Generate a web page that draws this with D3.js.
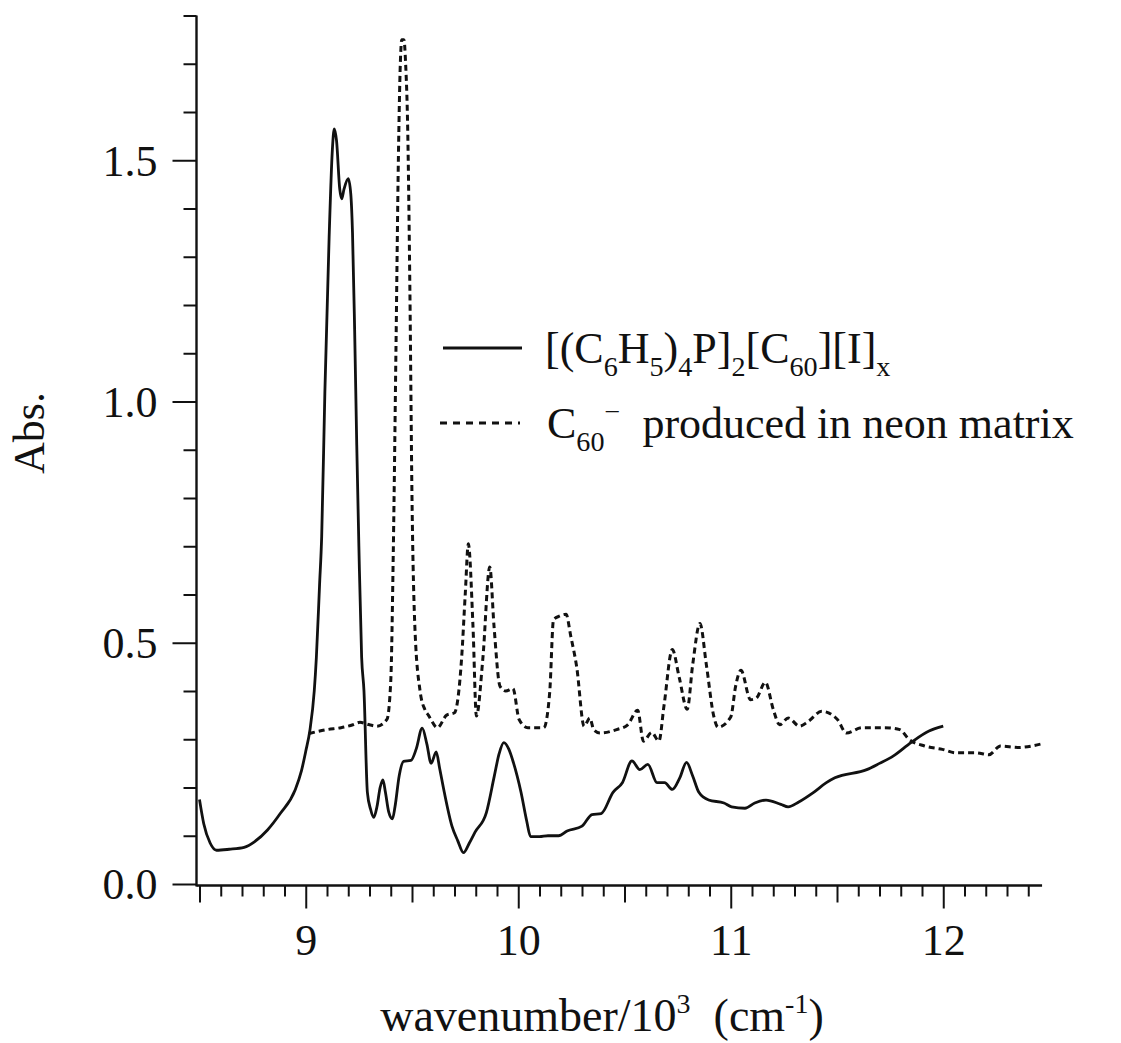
<!DOCTYPE html>
<html>
<head>
<meta charset="utf-8">
<script src="https://cdn.jsdelivr.net/npm/d3@7"></script>
<style>
  html, body { margin: 0; padding: 0; background: #fff; }
  svg text { font-family: "Liberation Serif", "Times New Roman", serif; fill: #111; }
</style>
</head>
<body>
<svg id="chart" width="1121" height="1043"></svg>
<script>
// Absorption of [(C6H5)4P]2[C60][I]x (solid trace), wavenumber in 10^3 cm^-1
const saltWn = [8.50, 8.52, 8.55, 8.58, 8.64, 8.71, 8.76, 8.82, 8.88, 8.95, 8.98, 9.00, 9.02, 9.04, 9.05,
  9.065, 9.075, 9.09, 9.11, 9.125, 9.134, 9.145, 9.16, 9.169, 9.18, 9.20, 9.212, 9.22, 9.23, 9.24,
  9.25, 9.263, 9.274, 9.29, 9.305, 9.32, 9.335, 9.35, 9.363, 9.375, 9.39, 9.408, 9.42, 9.44, 9.46,
  9.495, 9.52, 9.548, 9.57, 9.59, 9.614, 9.63, 9.652, 9.688, 9.715, 9.742, 9.77, 9.796, 9.85, 9.887,
  9.91, 9.932, 9.955, 9.977, 10.013, 10.04, 10.058, 10.10, 10.14, 10.19, 10.23, 10.30, 10.347, 10.39,
  10.446, 10.49, 10.535, 10.572, 10.61, 10.653, 10.689, 10.725, 10.76, 10.792, 10.82, 10.85, 10.896,
  10.968, 11.004, 11.067, 11.113, 11.166, 11.236, 11.27, 11.32, 11.39, 11.45, 11.49, 11.64, 11.70,
  11.764, 11.848, 11.933, 12.00];
const saltAbs = [0.175, 0.125, 0.085, 0.070, 0.072, 0.076, 0.088, 0.112, 0.146, 0.195, 0.235, 0.275, 0.32, 0.40, 0.47,
  0.62, 0.72, 1.02, 1.34, 1.52, 1.565, 1.54, 1.44, 1.42, 1.44, 1.462, 1.43, 1.35, 1.15, 0.91,
  0.70, 0.47, 0.40, 0.19, 0.155, 0.138, 0.16, 0.20, 0.216, 0.19, 0.15, 0.135, 0.16, 0.225, 0.254,
  0.256, 0.28, 0.323, 0.29, 0.25, 0.274, 0.24, 0.19, 0.12, 0.09, 0.065, 0.085, 0.107, 0.148, 0.223,
  0.27, 0.293, 0.28, 0.252, 0.19, 0.13, 0.098, 0.098, 0.10, 0.10, 0.11, 0.12, 0.144, 0.146,
  0.19, 0.21, 0.255, 0.237, 0.248, 0.21, 0.21, 0.196, 0.22, 0.252, 0.225, 0.19, 0.174,
  0.168, 0.16, 0.157, 0.168, 0.174, 0.165, 0.16, 0.17, 0.19, 0.21, 0.22, 0.237, 0.25,
  0.265, 0.293, 0.317, 0.327];

// Absorption of C60- isolated in a neon matrix (dashed trace)
const neonWn = [9.015, 9.10, 9.166, 9.222, 9.255, 9.30, 9.334, 9.382, 9.40, 9.412, 9.425, 9.436, 9.445,
  9.452, 9.462, 9.47, 9.48, 9.49, 9.50, 9.514, 9.538, 9.56, 9.577, 9.62, 9.663, 9.70, 9.733, 9.751,
  9.765, 9.787, 9.803, 9.833, 9.866, 9.886, 9.914, 9.941, 9.975, 10.004, 10.045, 10.12, 10.148,
  10.166, 10.193, 10.225, 10.247, 10.275, 10.31, 10.337, 10.355, 10.385, 10.463, 10.515, 10.562,
  10.589, 10.628, 10.662, 10.686, 10.725, 10.758, 10.795, 10.821, 10.855, 10.885, 10.92, 10.94,
  11.00, 11.023, 11.048, 11.093, 11.12, 11.163, 11.20, 11.23, 11.271, 11.324, 11.365, 11.428,
  11.502, 11.544, 11.618, 11.722, 11.796, 11.838, 11.912, 11.996, 12.059, 12.153, 12.215, 12.269,
  12.352, 12.468];
const neonAbs = [0.312, 0.32, 0.324, 0.33, 0.335, 0.33, 0.327, 0.341, 0.42, 0.69, 1.125, 1.505, 1.70,
  1.75, 1.75, 1.70, 1.56, 1.234, 0.80, 0.528, 0.40, 0.362, 0.35, 0.324, 0.35, 0.355, 0.465, 0.604,
  0.705, 0.534, 0.348, 0.465, 0.657, 0.534, 0.41, 0.40, 0.405, 0.341, 0.324, 0.324, 0.397,
  0.548, 0.555, 0.559, 0.514, 0.45, 0.327, 0.344, 0.32, 0.313, 0.32, 0.33, 0.36,
  0.296, 0.314, 0.296, 0.37, 0.486, 0.427, 0.362, 0.455, 0.54, 0.455, 0.348, 0.325,
  0.346, 0.41, 0.443, 0.382, 0.385, 0.418, 0.362, 0.33, 0.344, 0.327, 0.337, 0.358,
  0.341, 0.313, 0.324, 0.324, 0.32, 0.30, 0.286, 0.279, 0.272, 0.272, 0.268, 0.286,
  0.283, 0.291];

// Axis ticks
const xTickValues = d3.range(85, 125).map(d => d / 10);   // 8.5 ... 12.4
const xTickLabels = {9: "9", 10: "10", 11: "11", 12: "12"};
const yTickValues = d3.range(0, 19).map(d => d / 10);     // 0.0 ... 1.8
const yTickLabels = {0: "0.0", 5: "0.5", 10: "1.0", 15: "1.5"};

const svg = d3.select("#chart");

const x = d3.scaleLinear().domain([8.5, 12.5]).range([199.5, 1049.5]);
const y = d3.scaleLinear().domain([0, 1.8]).range([884, 15.5]);

const axisX0 = 196.5;   // y-axis position
const axisY0 = 885.5;   // x-axis position

// ---- x axis ----
const gx = svg.append("g").attr("transform", `translate(0,${axisY0})`)
  .call(d3.axisBottom(x).tickValues(xTickValues).tickSize(11).tickSizeOuter(0)
    .tickFormat(d => xTickLabels[Math.round(d * 10) / 10] || ""));
gx.select(".domain").remove();
gx.selectAll(".tick line")
  .attr("stroke", "#111").attr("stroke-width", 2)
  .attr("y2", d => {
    const t = Math.round(d * 10);
    return t % 10 === 0 ? 23 : (t % 5 === 0 ? 17 : 11);
  });
gx.selectAll(".tick text")
  .attr("y", 69).attr("dy", null)
  .style("font-size", "44px").attr("fill", "#111");
svg.append("line")
  .attr("x1", axisX0).attr("x2", x(12.465))
  .attr("y1", axisY0).attr("y2", axisY0)
  .attr("stroke", "#111").attr("stroke-width", 2.4);

// ---- y axis ----
const gy = svg.append("g").attr("transform", `translate(${axisX0},0)`)
  .call(d3.axisLeft(y).tickValues(yTickValues).tickSize(13).tickSizeOuter(0)
    .tickFormat(d => yTickLabels[Math.round(d * 10)] || ""));
gy.select(".domain").remove();
gy.selectAll(".tick line")
  .attr("stroke", "#111").attr("stroke-width", 2)
  .attr("x2", d => (Math.round(d * 10) % 5 === 0 ? -24 : -13));
gy.selectAll(".tick text")
  .attr("x", -39).attr("dy", "0.34em")
  .style("font-size", "44px").attr("fill", "#111");
svg.append("line")
  .attr("x1", axisX0).attr("x2", axisX0)
  .attr("y1", axisY0 + 1).attr("y2", y(1.8))
  .attr("stroke", "#111").attr("stroke-width", 2.4);

// ---- axis titles ----
svg.append("text")
  .attr("transform", `translate(44,433) rotate(-90)`)
  .attr("text-anchor", "middle")
  .style("font-size", "44px")
  .text("Abs.");

const xt = svg.append("text")
  .attr("x", 602).attr("y", 1031)
  .attr("text-anchor", "middle")
  .style("font-size", "46px");
xt.append("tspan").text("wavenumber/10");
xt.append("tspan").attr("dy", -18).style("font-size", "28px").text("3");
xt.append("tspan").attr("dy", 18).text("\u00a0\u00a0(cm");
xt.append("tspan").attr("dy", -18).style("font-size", "28px").text("-1");
xt.append("tspan").attr("dy", 18).text(")");

// ---- traces ----
const line = d3.line()
  .x(d => x(d[0]))
  .y(d => y(d[1]))
  .curve(d3.curveMonotoneX);

svg.append("path")
  .datum(neonWn.map((w, i) => [w, neonAbs[i]]))
  .attr("d", line)
  .attr("fill", "none")
  .attr("stroke", "#111")
  .attr("stroke-width", 3)
  .attr("stroke-dasharray", "6,4");

svg.append("path")
  .datum(saltWn.map((w, i) => [w, saltAbs[i]]))
  .attr("d", line)
  .attr("fill", "none")
  .attr("stroke", "#111")
  .attr("stroke-width", 2.8)
  .attr("stroke-linejoin", "round");

// ---- legend ----
const legend = svg.append("g");
legend.append("line")
  .attr("x1", 443).attr("x2", 522).attr("y1", 348).attr("y2", 348)
  .attr("stroke", "#111").attr("stroke-width", 2.8);
legend.append("line")
  .attr("x1", 440).attr("x2", 520).attr("y1", 423).attr("y2", 423)
  .attr("stroke", "#111").attr("stroke-width", 3)
  .attr("stroke-dasharray", "7,6");

// builds a text line from [string, "sub"|"sup"|null] pieces
function richText(sel, parts, size) {
  let shift = 0;
  parts.forEach(([str, kind]) => {
    const target = kind === "sub" ? size * 0.3 : (kind === "sup" ? -size * 0.38 : 0);
    const t = sel.append("tspan").attr("dy", target - shift).text(str);
    if (kind) t.style("font-size", (size * 0.64) + "px");
    shift = target;
  });
}

const l1 = legend.append("text").attr("x", 545).attr("y", 363).style("font-size", "44px");
richText(l1, [["[(C", null], ["6", "sub"], ["H", null], ["5", "sub"], [")", null], ["4", "sub"],
  ["P]", null], ["2", "sub"], ["[C", null], ["60", "sub"], ["][I]", null], ["x", "sub"]], 44);

const l2 = legend.append("text").attr("x", 547).attr("y", 438).style("font-size", "44px");
richText(l2, [["C", null], ["60", "sub"], ["\u2212", "sup"], ["\u00a0\u00a0produced in neon matrix", null]], 44);
</script>
</body>
</html>
